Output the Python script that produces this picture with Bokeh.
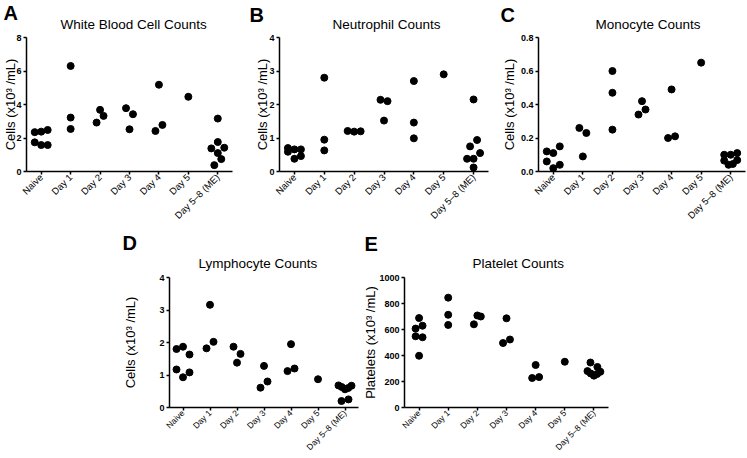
import math
from bokeh.plotting import figure
from bokeh.layouts import column, row
from bokeh.models import FixedTicker, Range1d, Spacer, PrintfTickFormatter, Title
from bokeh.embed import file_html
from bokeh.resources import INLINE

categories = ["Naive", "Day 1", "Day 2", "Day 3", "Day 4", "Day 5", "Day 5\u20138 (ME)"]

wbc_counts = [
    [2.35, 2.38, 2.48, 1.74, 1.58, 1.58],
    [6.3, 3.22, 2.54],
    [2.92, 3.68, 3.32],
    [3.78, 2.52, 3.42],
    [2.42, 5.18, 2.78],
    [4.46],
    [3.16, 1.76, 1.38, 1.1, 1.42, 0.38, 0.74],
]
neutrophil_counts = [
    [0.7, 0.66, 0.66, 0.59, 0.38, 0.46],
    [2.8, 0.95, 0.63],
    [1.21, 1.19, 1.2],
    [2.14, 1.52, 2.1],
    [2.7, 1.46, 0.99],
    [2.9],
    [2.15, 0.75, 0.94, 0.38, 0.38, 0.55, 0.12],
]
monocyte_counts = [
    [0.12, 0.11, 0.15, 0.06, 0.02, 0.04],
    [0.26, 0.09, 0.23],
    [0.6, 0.47, 0.25],
    [0.34, 0.42, 0.37],
    [0.2, 0.49, 0.21],
    [0.65],
    [0.1, 0.1, 0.11, 0.065, 0.04, 0.045, 0.068],
]
lymphocyte_counts = [
    [1.8, 1.87, 1.63, 1.17, 0.93, 1.08],
    [1.82, 3.16, 2.02],
    [1.87, 1.38, 1.65],
    [0.61, 1.28, 0.8],
    [1.12, 1.95, 1.2],
    [0.87],
    [0.68, 0.63, 0.56, 0.6, 0.67, 0.2, 0.25],
]
platelet_counts = [
    [607, 688, 629, 548, 540, 398],
    [845, 713, 635],
    [708, 640, 700],
    [496, 686, 523],
    [227, 327, 234],
    [352],
    [346, 280, 262, 245, 258, 275, 312],
]

wbc_ticks = [0, 2, 4, 6, 8]
neutrophil_ticks = [0, 1, 2, 3, 4]
monocyte_ticks = [0.0, 0.2, 0.4, 0.6, 0.8]
lymphocyte_ticks = [0, 1, 2, 3, 4]
platelet_ticks = [0, 200, 400, 600, 800, 1000]

FONT = "Liberation Sans"


def swarm_offsets(vals, px_per_unit, px_per_cat, diam=8.5):
    """Prism-like column scatter: points closer than a dot are spread sideways."""
    h = diam / px_per_unit
    order = sorted(range(len(vals)), key=lambda i: vals[i])
    bins, cur, start = [], [], None
    for i in order:
        if cur and vals[i] - start < h:
            cur.append(i)
        else:
            if cur:
                bins.append(cur)
            cur, start = [i], vals[i]
    if cur:
        bins.append(cur)
    offs = [0.0] * len(vals)
    for b in bins:
        b = sorted(b)
        m = len(b)
        step = min(7.0, 13.0 / (m - 1)) if m > 1 else 0.0
        for k, i in enumerate(b):
            offs[i] = (k - (m - 1) / 2.0) * step / px_per_cat
    return offs


def panel(values, ticks, title, letter, ylabel, width, height, left, right, top, bottom,
          ylabel_standoff, title_off, title_standoff, letter_off, letter_standoff,
          xlabel_size="9.5px", fmt=None):
    fw = width - left - right
    fh = height - top - bottom
    ymax = ticks[-1]
    p = figure(width=width, height=height, x_range=Range1d(-0.5, 6.5), y_range=Range1d(0, ymax),
               output_backend="svg", toolbar_location=None,
               min_border_left=left, min_border_right=right,
               min_border_top=top, min_border_bottom=bottom)
    p.outline_line_color = None
    p.grid.visible = False
    p.background_fill_color = "white"
    p.border_fill_color = "white"

    xs, ys = [], []
    for i, vals in enumerate(values):
        offs = swarm_offsets(vals, fh / ymax, fw / 7.0)
        xs += [i + o for o in offs]
        ys += vals
    p.scatter(xs, ys, size=7, color="black")

    xa = p.xaxis[0]
    xa.ticker = FixedTicker(ticks=list(range(len(categories))))
    xa.major_label_overrides = {i: c for i, c in enumerate(categories)}
    xa.major_label_orientation = math.pi / 4
    xa.major_label_text_font = FONT
    xa.major_label_text_font_size = xlabel_size
    xa.major_label_text_color = "black"
    xa.major_label_standoff = 1
    xa.axis_line_width = 1.5
    xa.axis_line_color = "black"
    xa.major_tick_out = 3
    xa.major_tick_in = 0
    xa.major_tick_line_width = 1.5
    xa.minor_tick_line_color = None

    ya = p.yaxis[0]
    ya.ticker = FixedTicker(ticks=ticks)
    if fmt:
        ya.formatter = PrintfTickFormatter(format=fmt)
    ya.major_label_text_font = FONT
    ya.major_label_text_font_size = "9px"
    ya.major_label_text_font_style = "bold"
    ya.major_label_text_color = "black"
    ya.major_label_standoff = 2
    ya.axis_line_width = 1.5
    ya.axis_line_color = "black"
    ya.major_tick_out = 3
    ya.major_tick_in = 0
    ya.major_tick_line_width = 1.5
    ya.minor_tick_line_color = None
    ya.axis_label = ylabel
    ya.axis_label_text_font = FONT
    ya.axis_label_text_font_size = "13px"
    ya.axis_label_text_font_style = "normal"
    ya.axis_label_text_color = "black"
    ya.axis_label_standoff = ylabel_standoff

    # panel letter: outermost title
    p.title.text = letter
    p.title.align = "left"
    p.title.offset = letter_off
    p.title.standoff = letter_standoff
    p.title.text_font = FONT
    p.title.text_font_size = "20px"
    p.title.text_font_style = "bold"
    p.title.text_color = "black"

    # chart title: nearest the plot frame
    p.add_layout(Title(text=title, align="left", offset=title_off, standoff=title_standoff,
                       text_font=FONT, text_font_size="13.5px", text_font_style="normal",
                       text_color="black"), "above")
    return p


ylab = "Cells (x10\u00b3 /mL)"
pA = panel(wbc_counts, wbc_ticks, "White Blood Cell Counts", "A", ylab,
           248, 230, 25, 16, 37, 59, -5, 34, 12, -23, -31)
pB = panel(neutrophil_counts, neutrophil_ticks, "Neutrophil Counts", "B", ylab,
           248, 230, 31, 8, 35, 59, -4, 53, 12, -30, -35)
pC = panel(monocyte_counts, monocyte_ticks, "Monocyte Counts", "C", ylab,
           251, 230, 42, 2, 35, 59, 1, 57, 12, -38, -35, fmt="%.1f")
pD = panel(lymphocyte_counts, lymphocyte_ticks, "Lymphocyte Counts", "D", ylab,
           240, 228, 49, 2, 47, 51, 18, 29, 14, -47, -15, xlabel_size="8.5px")
pE = panel(platelet_counts, platelet_ticks, "Platelet Counts", "E", "Platelets (x10\u00b3 /mL)",
           260, 228, 42, 12, 46, 51, -2, 68, 14, -40, -17, xlabel_size="8.5px")

root = column(row(pA, pB, pC), row(Spacer(width=120, height=228), pD, pE))

open("out.html", "w").write(file_html(root, INLINE))
